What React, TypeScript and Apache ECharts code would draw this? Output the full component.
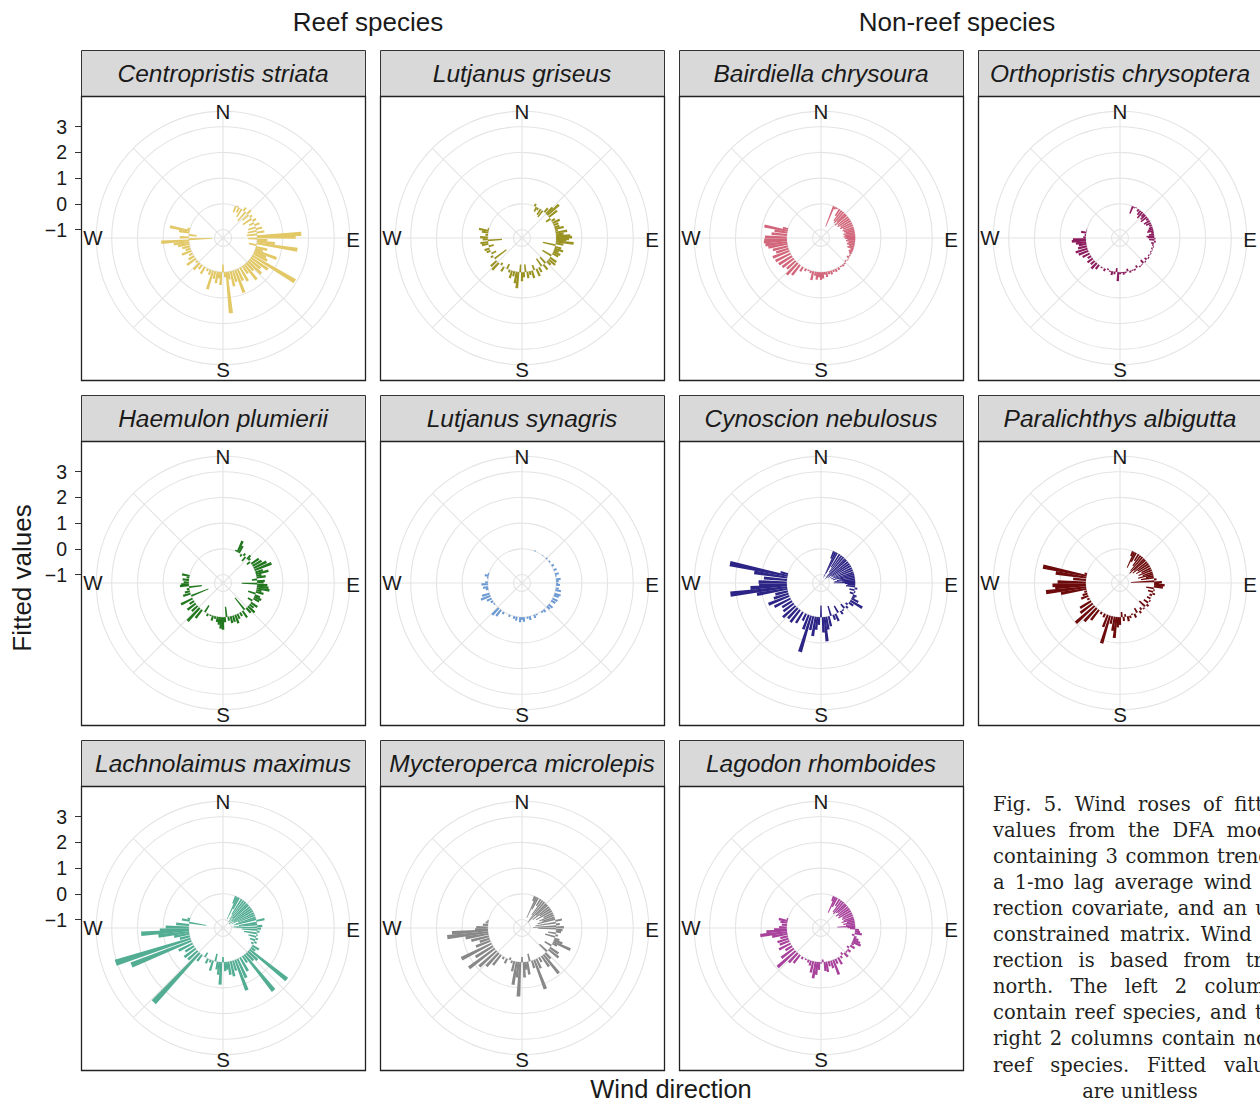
import React, { useEffect, useRef } from "react";
import * as echarts from "echarts";

// Lagged (1-mo) mean wind direction, degrees clockwise from true north, one per time step
const windDirection = [
  22, 25, 28, 33, 37, 41, 45, 48, 52, 56, 60, 64, 68,
  72, 75, 78, 81, 84, 87, 89, 91, 93, 96, 99, 102, 105, 108, 111, 114,
  117, 121, 125, 129, 133, 137, 141, 145, 150, 155, 159,
  163, 167, 171, 174, 177, 180, 183, 186, 189, 193, 197, 201,
  206, 212, 218, 223, 228, 233, 238, 243, 248,
  252, 256, 260, 263, 266, 268, 271, 275, 279, 282, 285,
];

// Fitted values (unitless) per species, aligned with windDirection
const centropristisStriata = [
  -0.25, 0.05, -0.2, -0.35, 0.15, -0.45, 0.2, -0.3, 0.1, -0.4, 0.15, -0.2, 0.2,
  -0.3, 0.25, -0.35, 0.3, -0.4, 1.72, 1.5, -0.35, 0.4, 0.7, 1.6, -0.3, 0.45, 0.3, 0.9, 0.5,
  0.6, 1.93, 0.8, 0.55, 0.7, 0.4, 0.75, 0.35, 0.6, 0.5, 0.95,
  0.45, 0.6, 0.3, 1.61, 0.2, -0.3, 0.5, 0.25, 0.45, 0.3, 0.75, 0.2,
  0.1, 0.3, 0.2, 0.35, 0.1, 0.42, 0.25, 0.15, 0.39,
  0.2, 0.3, 0.45, 0.6, 1.08, -0.9, 0.35, -0.3, 0.4, 0.78, 0.1,
];
const lutjanusGriseus = [
  0.1, -0.2, -0.1, -0.25, -0.3, 0.2, 0.35, 0.6, 0.4, -0.2, 0.15, 0.3, 0.2,
  0.2, 0.35, 0.1, 0.45, 0.3, 0.55, 0.62, 0.5, 0.4, 0.69, 0.3, -0.5, 0.25, 0.35, 0.2, 0.3,
  0.25, -0.4, 0.3, 0.33, 0.2, -0.3, 0.25, -0.35, 0.2, 0.3, -0.2,
  0.3, 0.15, 0.25, -0.3, 0.2, 0.35, -0.3, 0.63, 0.45, 0.2, 0.3, 0.1,
  -0.2, 0.2, -0.1, 0.37, 0.3, -0.57, 0.1, -0.2, 0.15,
  0.2, -0.2, 0.25, 0.3, -0.55, 0.2, 0.3, 0.1, 0.25, 0.38, 0.05,
];
const bairdiellaChrysoura = [
  -0.85, -0.1, -0.05, -0.3, -0.5, -0.55, -0.45, -0.6, -0.5, -0.55, -0.45, -0.5, -0.4,
  -0.45, -0.4, -0.35, -0.45, -0.4, -0.45, -0.35, -0.4, -0.3, -0.35, -0.25, -0.3, -0.2, -0.25, -0.1, -0.15,
  -0.1, -0.05, -0.1, 0.03, -0.05, 0.05, 0.08, 0.05, 0.1, 0.12, 0.08,
  0.15, 0.12, 0.2, 0.1, 0.25, 0.3, 0.2, 0.3, 0.15, 0.35, 0.1, 0.05,
  0.1, 0.2, 0.5, 0.62, 0.45, 0.55, 0.6, 0.65, 0.69,
  0.5, 0.6, 0.75, 0.85, 0.9, 0.88, 0.85, 0.6, 0.5, 0.92, 0.2,
];
const orthopristisChrysoptera = [
  -0.3, -0.05, 0.02, -0.1, -0.2, -0.3, -0.15, -0.25, -0.3, -0.1, -0.25, -0.2, -0.1,
  -0.15, -0.2, -0.25, -0.1, -0.2, -0.3, -0.25, 0.05, -0.2, 0.07, -0.1, -0.05, 0.03, -0.05, 0.02, -0.04,
  0.03, -0.05, 0.05, -0.1, 0.04, -0.15, 0.03, 0.05, -0.1, 0.06, 0.04,
  0.08, -0.1, 0.06, 0.1, 0.04, 0.08, 0.35, -0.15, 0.1, 0.15, 0.05, -0.05,
  0.1, 0.05, 0.2, 0.3, 0.2, 0.25, 0.15, 0.3, 0.4,
  0.48, 0.35, 0.3, 0.4, 0.55, 0.5, 0.1, 0.05, 0.2, 0.02, 0.01,
];
const haemulonPlumierii = [
  0.05, 0.47, 0.3, -0.1, 0.1, -0.2, 0.18, 0.1, -0.15, 0.35, 0.4, 0.55, 0.7,
  0.3, 0.5, 0.2, 0.35, -0.2, 0.3, 0.25, -0.6, 0.4, 0.45, 0.5, 0.2, 0.3, -0.3, 0.21, 0.3,
  0.25, -0.2, 0.3, 0.2, 0.35, 0.25, -0.59, 0.3, 0.15, 0.2, 0.35,
  0.25, 0.27, 0.15, -0.4, 0.2, 0.49, 0.45, 0.3, 0.2, 0.1, 0.2, 0.05,
  0.1, -0.3, 0.4, 0.69, 0.3, 0.4, 0.2, 0.5, -0.72,
  0.3, 0.2, 0.1, -0.5, 0.35, 0.3, 0.2, 0.25, 0.1, 0.3, 0.0,
];
const lutjanusSynagris = [
  0.03, 0.0, 0.0, 0.0, 0.02, 0.0, 0.05, 0.0, 0.06, 0.0, 0.1, 0.0, 0.12,
  0.0, 0.15, 0.05, 0.0, 0.18, 0.1, 0.0, 0.08, 0.15, 0.0, 0.12, 0.22, 0.0, 0.25, 0.2, 0.0,
  0.22, 0.18, 0.0, 0.2, 0.15, 0.0, 0.12, 0.08, 0.0, 0.05, 0.12,
  0.0, 0.15, 0.08, 0.0, 0.18, 0.1, 0.2, 0.0, 0.15, 0.1, 0.0, 0.08,
  0.0, 0.1, 0.3, 0.37, 0.0, 0.05, 0.1, 0.2, 0.39,
  0.3, 0.0, 0.1, 0.2, 0.0, 0.25, 0.1, 0.0, 0.05, 0.15, 0.05,
];
const cynoscionNebulosus = [
  -0.3, -1.1, -0.9, -0.6, -0.8, -1.0, -1.1, -0.9, -1.0, -0.85, -0.95, -0.8, -0.9,
  -0.75, -0.85, -0.6, -0.7, -0.8, -0.5, -0.84, -0.4, -0.3, -0.35, 0.1, -0.2, 0.05, -0.15, 0.15, 0.1,
  0.3, 0.54, 0.2, -0.1, 0.1, -0.2, 0.05, 0.15, -0.3, 0.3, 0.2,
  -0.4, 0.4, 0.5, 0.95, 0.6, -0.45, 0.3, 0.5, 0.76, 0.55, 1.47, 0.6,
  0.3, 0.5, 0.6, 0.55, 0.66, 0.5, 0.45, 0.7, 0.87,
  0.6, 0.5, 1.2, 2.22, 1.42, 1.08, 1.1, 0.9, 1.3, 2.29, 0.3,
];
const paralichthysAlbigutta = [
  -0.2, -0.67, -0.4, -0.3, -0.5, -0.7, -0.8, -0.6, -0.7, -0.5, -0.6, -0.4, -0.55,
  -0.4, -0.6, -0.3, -0.5, 0.1, -0.9, 0.3, 0.2, 0.41, 0.35, -0.3, 0.05, -0.2, 0.1, -0.1, 0.0,
  -0.15, 0.05, -0.2, 0.1, -0.3, 0.05, -0.1, 0.1, -0.2, 0.15, -0.05,
  0.1, 0.2, -0.1, 0.15, -0.2, 0.3, 0.4, 0.82, 0.55, 0.3, 1.12, 0.5,
  0.15, 0.1, 0.5, 0.7, 0.98, 0.6, 0.5, 0.1, 0.3,
  0.2, 0.1, 1.0, 1.57, 1.2, 1.3, 1.1, 0.5, 1.2, 1.73, 0.1,
];
const lachnolaimusMaximus = [
  -0.3, -0.95, -0.5, -0.7, -0.9, -1.0, -0.8, -1.0, -0.9, -1.05, -0.85, -0.95, -0.7,
  -0.8, -0.9, 0.32, -0.7, -1.0, 0.2, -0.9, 0.15, -0.6, 0.1, -0.5, 0.05, -0.3, 0.1, -0.2, 0.1,
  -0.1, 0.3, 0.2, 1.86, 0.5, 0.4, 1.8, 0.3, 0.6, 0.8, 1.26,
  0.4, 0.6, 0.51, 0.3, 0.35, -0.2, 0.88, 0.5, 0.3, -0.3, 0.4, 0.1,
  0.2, -0.2, 0.3, 2.62, 0.5, 0.55, 0.4, 0.6, 2.51,
  3.06, 0.4, 0.6, 1.2, 1.86, 1.13, 0.9, 0.5, -0.67, 0.3, 0.1,
];
const mycteropercaMicrolepis = [
  -0.2, -0.9, -0.5, -0.3, -0.7, -0.9, -1.0, -0.6, -0.8, -0.5, -0.7, -0.4, -0.6,
  -0.5, -0.7, 0.26, -0.8, 0.15, -0.9, 0.3, -0.7, 0.25, 0.2, -0.3, 0.1, -0.4, 0.2, 0.35, 0.73,
  0.2, -0.3, 0.4, 0.5, -0.4, 0.3, 0.94, 0.5, 0.2, 0.4, 1.21,
  0.3, -0.3, 0.5, 0.3, 0.6, -0.2, 1.34, 0.6, 0.91, 0.4, 0.1, -0.1,
  0.2, 0.1, 0.5, 0.7, 0.9, 1.25, 0.8, 1.31, 0.6,
  0.4, 0.7, 0.9, 1.6, 1.4, 0.5, 0.45, 0.2, 0.1, 0.05, 0.0,
];
const lagodonRhomboides = [
  -0.2, -0.67, -0.4, -0.3, -0.55, -0.6, -0.5, -0.45, -0.6, -0.5, -0.55, -0.4, -0.45,
  -0.4, -0.5, -0.3, -0.45, -0.35, -0.7, -0.3, -0.2, 0.15, 0.2, 0.28, -0.1, 0.1, 0.2, 0.3, 0.36,
  0.1, 0.2, -0.1, 0.15, 0.05, 0.2, -0.1, 0.1, 0.3, 0.2, 0.61,
  0.3, 0.2, 0.4, 0.35, -0.1, 0.05, 0.3, 0.5, 0.65, 0.45, 0.2, 0.1,
  0.05, 0.1, 0.4, 0.5, 0.94, 0.6, 0.3, 0.5, 0.4,
  0.45, 0.3, 0.6, 1.05, 0.8, 0.5, 0.3, 0.2, 0.27, 0.35, 0.05,
];

const speciesNames = [
  "Centropristis striata", "Lutjanus griseus", "Bairdiella chrysoura", "Orthopristis chrysoptera",
  "Haemulon plumierii", "Lutjanus synagris", "Cynoscion nebulosus", "Paralichthys albigutta",
  "Lachnolaimus maximus", "Mycteroperca microlepis", "Lagodon rhomboides",
];
const speciesColors = [
  "#E2C866", "#9A9322", "#D2667A", "#8C1C5E",
  "#22781F", "#6C9AD2", "#2D2585", "#6C0A0C",
  "#52AD92", "#888888", "#A7419B",
];
const fittedValues = [
  centropristisStriata, lutjanusGriseus, bairdiellaChrysoura, orthopristisChrysoptera,
  haemulonPlumierii, lutjanusSynagris, cynoscionNebulosus, paralichthysAlbigutta,
  lachnolaimusMaximus, mycteropercaMicrolepis, lagodonRhomboides,
];

const ringValues = [-1, 0, 1, 2, 3];
const compassLabels = ["N", "E", "S", "W"];
const groupTitles = ["Reef species", "Non-reef species"];
const captionLines = [
  "Fig. 5. Wind roses of fitted",
  "values from the DFA model",
  "containing 3 common trends,",
  "a 1-mo lag average wind di-",
  "rection covariate, and an un-",
  "constrained matrix. Wind di-",
  "rection is based from true",
  "north. The left 2 columns",
  "contain reef species, and the",
  "right 2 columns contain non-",
  "reef species. Fitted values",
  "are unitless",
];

// Layout
const WIDTH = 1260;
const HEIGHT = 1105;
const COL_X = [81, 380, 679, 978];
const ROW_Y = [96, 441, 786];
const PANEL = 284;
const STRIP = 46;
const RADIUS = 126.7;
const R_MIN = -1.33;
const R_MAX = 3.6;
const GRID_COLOR = "#E4E4E4";
const SANS = '"Liberation Sans", Arial, Helvetica, sans-serif';
const SERIF = '"DejaVu Serif", serif';
const CAPTION_SIZE = 19.5;
const CAPTION_X = 993;
const CAPTION_W = 294;
const CAPTION_Y = 804;
const CAPTION_LEAD = 26.1;

function minusLabel(v: number): string {
  return v < 0 ? "\u2212" + Math.abs(v) : String(v);
}

function buildOption() {
  const polar: any[] = [];
  const angleAxis: any[] = [];
  const radiusAxis: any[] = [];
  const series: any[] = [];
  const grid: any[] = [];
  const xAxis: any[] = [];
  const yAxis: any[] = [];
  const graphic: any[] = [];

  fittedValues.forEach((vals, i) => {
    const row = Math.floor(i / 4);
    const col = i % 4;
    const x0 = COL_X[col];
    const y0 = ROW_Y[row];
    const cx = x0 + PANEL / 2;
    const cy = y0 + PANEL / 2;

    polar.push({ center: [cx, cy], radius: RADIUS });
    angleAxis.push({
      polarIndex: i,
      type: "value",
      min: 0,
      max: 360,
      interval: 45,
      startAngle: 90,
      clockwise: true,
      axisLine: { show: true, lineStyle: { color: GRID_COLOR, width: 1.1 } },
      axisTick: { show: false },
      axisLabel: { show: false },
      splitLine: { show: true, lineStyle: { color: GRID_COLOR, width: 1.1 } },
    });
    radiusAxis.push({
      polarIndex: i,
      type: "value",
      min: R_MIN,
      max: R_MAX,
      axisLine: { show: false },
      axisTick: { show: false, customValues: ringValues },
      axisLabel: { show: false, customValues: ringValues },
      splitLine: { show: true, lineStyle: { color: GRID_COLOR, width: 1.1 } },
    });
    series.push({
      type: "bar",
      coordinateSystem: "polar",
      polarIndex: i,
      barWidth: 3.2,
      silent: true,
      itemStyle: { color: speciesColors[i] },
      data: windDirection.map((d, k) => [vals[k], d]),
    });

    // facet strip and panel frame
    graphic.push({
      type: "rect",
      shape: { x: x0 + 0.5, y: y0 - STRIP + 0.5, width: PANEL, height: STRIP },
      style: { fill: "#D9D9D9", stroke: "#333333", lineWidth: 1 },
    });
    graphic.push({
      type: "text",
      x: cx,
      y: y0 - STRIP / 2,
      style: {
        text: speciesNames[i],
        fontFamily: SANS,
        fontStyle: "italic",
        fontSize: 24.5,
        fill: "#1A1A1A",
        align: "center",
        verticalAlign: "middle",
      },
    });
    graphic.push({
      type: "rect",
      z: 100,
      shape: { x: x0 + 0.5, y: y0 + 0.5, width: PANEL, height: PANEL },
      style: { fill: "none", stroke: "#222222", lineWidth: 1.3 },
    });

    // compass labels
    const offsets = [
      [0, -127],
      [130, 1],
      [0, 131],
      [-130, -1],
    ];
    compassLabels.forEach((lab, k) => {
      graphic.push({
        type: "text",
        x: cx + offsets[k][0],
        y: cy + offsets[k][1],
        z: 50,
        style: {
          text: lab,
          fontFamily: SANS,
          fontSize: 20.5,
          fill: "#1A1A1A",
          align: "center",
          verticalAlign: "middle",
        },
      });
    });

    // radial value scale on the left-hand column
    if (col === 0) {
      const g = grid.length;
      grid.push({ left: x0, top: cy - RADIUS, width: 10, height: RADIUS });
      xAxis.push({ gridIndex: g, type: "value", show: false });
      yAxis.push({
        gridIndex: g,
        type: "value",
        min: R_MIN,
        max: R_MAX,
        axisLine: { show: false },
        axisTick: {
          show: true,
          length: 6,
          customValues: ringValues,
          lineStyle: { color: "#333333", width: 1 },
        },
        axisLabel: {
          customValues: ringValues,
          formatter: minusLabel,
          fontFamily: SANS,
          fontSize: 19.5,
          color: "#1A1A1A",
          margin: 14,
        },
        splitLine: { show: false },
      });
    }
  });

  // group titles and axis titles
  const titleStyle = (text: string, size = 26) => ({
    text,
    fontFamily: SANS,
    fontSize: size,
    fill: "#1A1A1A",
    align: "center",
    verticalAlign: "middle",
  });
  graphic.push({ type: "text", x: 368, y: 22, style: titleStyle(groupTitles[0]) });
  graphic.push({ type: "text", x: 957, y: 22, style: titleStyle(groupTitles[1]) });
  graphic.push({ type: "text", x: 671, y: 1089, style: titleStyle("Wind direction", 25.5) });
  graphic.push({
    type: "text",
    x: 22,
    y: 578,
    rotation: Math.PI / 2,
    style: titleStyle("Fitted values"),
  });

  // justified caption
  const ctx = document.createElement("canvas").getContext("2d");
  const font = `${CAPTION_SIZE}px ${SERIF}`;
  if (ctx) ctx.font = font;
  const measure = (s: string) => (ctx ? ctx.measureText(s).width : s.length * CAPTION_SIZE * 0.55);
  captionLines.forEach((line, li) => {
    const y = CAPTION_Y + li * CAPTION_LEAD;
    const capStyle = (text: string, align: string) => ({
      text,
      fontFamily: SERIF,
      fontSize: CAPTION_SIZE,
      fill: "#231F20",
      align,
      verticalAlign: "middle",
    });
    if (li === captionLines.length - 1) {
      graphic.push({ type: "text", x: CAPTION_X + CAPTION_W / 2, y, style: capStyle(line, "center") });
      return;
    }
    const words = line.split(" ");
    const widths = words.map(measure);
    const total = widths.reduce((a, b) => a + b, 0);
    const gap = words.length > 1 ? Math.max(measure(" ") * 0.8, (CAPTION_W - total) / (words.length - 1)) : 0;
    let x = CAPTION_X;
    words.forEach((w, k) => {
      graphic.push({ type: "text", x, y, style: capStyle(w, "left") });
      x += widths[k] + gap;
    });
  });

  return {
    animation: false,
    backgroundColor: "#FFFFFF",
    polar,
    angleAxis,
    radiusAxis,
    grid,
    xAxis,
    yAxis,
    series,
    graphic: { elements: graphic },
  };
}

export default function App() {
  const ref = useRef<HTMLDivElement>(null);
  useEffect(() => {
    if (!ref.current) return;
    const chart = echarts.init(ref.current, null, { renderer: "svg" });
    chart.setOption(buildOption() as any);
    return () => chart.dispose();
  }, []);
  return (
    <div
      ref={ref}
      style={{ position: "absolute", left: 0, top: 0, width: WIDTH, height: HEIGHT, overflow: "hidden" }}
    />
  );
}
